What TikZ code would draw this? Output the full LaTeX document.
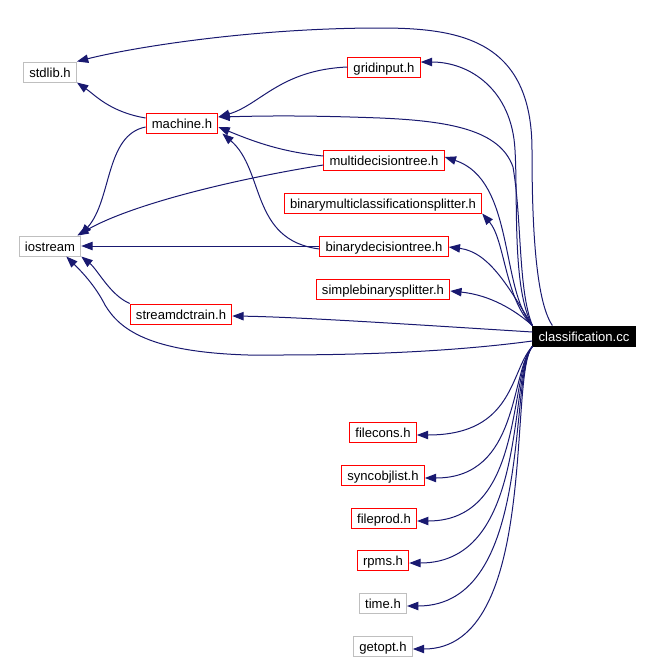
\documentclass[tikz,border=0pt]{standalone}
\usepackage{fontspec}
\setmainfont{Liberation Sans}
\usetikzlibrary{arrows.meta,calc}
\definecolor{edgeblue}{HTML}{191970}
\definecolor{sysgray}{HTML}{BFBFBF}
\begin{document}
\begin{tikzpicture}[x=0.75pt,y=-0.75pt,
            file/.style={draw, line width=0.75pt, minimum height=15pt, inner xsep=4.3pt, inner ysep=0pt,
                text height=8.5pt, text depth=0pt, font=\fontsize{9.8}{11}\selectfont},
            local/.style={file, draw=red},
            sys/.style={file, draw=sysgray},
            main/.style={file, draw=black, fill=black, text=white},
            inc/.style={draw=edgeblue, line width=0.75pt, -{Triangle[length=8.5pt,width=6.3pt]}}
            ]
            \useasboundingbox (0,0) rectangle (652,661);
            \node[sys] (stdlib) at (50,72) {stdlib.h};
            \node[local] (machine) at (182,123) {machine.h};
            \node[local] (grid) at (384,67) {gridinput.h};
            \node[local] (multi) at (384,160) {multidecisiontree.h};
            \node[local] (bmcs) at (383,203) {binarymulticlassificationsplitter.h};
            \node[local] (bdt) at (384,246) {binarydecisiontree.h};
            \node[local] (sbs) at (383,289) {simplebinarysplitter.h};
            \node[main] (cls) at (584,336) {classification.cc};
            \node[sys] (io) at (50,246) {iostream};
            \node[local] (sdt) at (181,314) {streamdctrain.h};
            \node[local] (fcons) at (383,432) {filecons.h};
            \node[local] (sync) at (383,475) {syncobjlist.h};
            \node[local] (fprod) at (384,518) {fileprod.h};
            \node[local] (rpms) at (383,560) {rpms.h};
            \node[sys] (time) at (383,603) {time.h};
            \node[sys] (getopt) at (383,646) {getopt.h};

            \draw[inc] ($(cls.north west)+(20,0)$) .. controls (535,300) and (532,220) .. (532,150)
                .. controls (532,40) and (460,28) .. (380,28) .. controls (250,28) and (130,48) .. (stdlib.north east);
            \draw[inc] (cls.north west) .. controls (512,290) and (518,200) .. (515,150)
                .. controls (512,90) and (470,62) .. ($(grid.east)+(0,-5)$);
            \draw[inc] (cls.north west) .. controls (518,290) and (522,220) .. (513,167)
                .. controls (500,130) and (450,121) .. (380,118) .. controls (300,115) and (260,116) .. ($(machine.east)+(0,-6)$);
            \draw[inc] (cls.north west) .. controls (500,290) and (515,180) .. ($(multi.east)+(0,-3)$);
            \draw[inc] (cls.north west) .. controls (505,300) and (505,240) .. (bmcs.south east);
            \draw[inc] (cls.north west) .. controls (510,290) and (490,252) .. ($(bdt.east)+(0,1)$);
            \draw[inc] (cls.north west) .. controls (515,310) and (490,295) .. ($(sbs.east)+(0,2)$);
            \draw[inc] ($(cls.west)+(0,-4)$) .. controls (420,325) and (300,317) .. ($(sdt.east)+(0,2)$);
            \draw[inc] ($(cls.west)+(0,5)$) .. controls (420,356) and (300,355) .. (248,355)
                .. controls (150,352) and (120,330) .. (105,305) .. controls (95,285) and (80,270) .. ($(io.south east)+(-15,0)$);

            \draw[inc] (cls.south west) .. controls (510,370) and (515,435) .. ($(fcons.east)+(0,3)$);
            \draw[inc] (cls.south west) .. controls (510,372) and (520,478) .. ($(sync.east)+(0,3)$);
            \draw[inc] (cls.south west) .. controls (508,375) and (525,521) .. ($(fprod.east)+(0,3)$);
            \draw[inc] (cls.south west) .. controls (508,375) and (530,563) .. ($(rpms.east)+(0,3)$);
            \draw[inc] (cls.south west) .. controls (508,375) and (535,606) .. ($(time.east)+(0,3)$);
            \draw[inc] (cls.south west) .. controls (508,375) and (540,649) .. ($(getopt.east)+(0,3)$);

            \draw[inc] (grid.west) .. controls (280,70) and (260,105) .. ($(machine.east)+(0,-6)$);
            \draw[inc] ($(multi.west)+(0,-4)$) .. controls (280,152) and (250,140) .. ($(machine.east)+(0,4)$);
            \draw[inc] ($(multi.west)+(0,5)$) .. controls (230,180) and (130,205) .. ($(io.north east)+(-4,0)$);
            \draw[inc] ($(bdt.west)+(0,3)$) .. controls (250,240) and (265,170) .. ($(machine.south east)+(4,0)$);
            \draw[inc] (bdt.west) -- (io.east);
            \draw[inc] ($(machine.west)+(0,-5)$) .. controls (110,112) and (95,95) .. (stdlib.south east);
            \draw[inc] ($(machine.west)+(0,4)$) .. controls (105,135) and (112,200) .. ($(io.north east)+(-1,0)$);
            \draw[inc] (sdt.north west) .. controls (110,295) and (98,270) .. (io.south east);
            \end{tikzpicture}
\end{document}
